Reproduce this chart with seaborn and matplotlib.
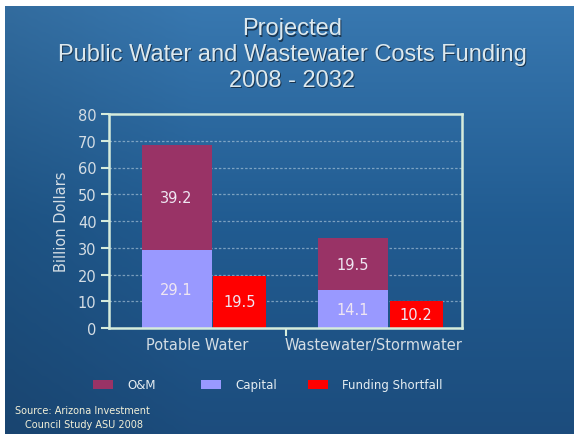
import numpy as np
import matplotlib
matplotlib.use("Agg")
import matplotlib.pyplot as plt
import seaborn as sns
from matplotlib.patches import Patch

categories = ["Potable Water", "Wastewater/Stormwater"]
capital = [29.1, 14.1]
om = [39.2, 19.5]
shortfall = [19.5, 10.2]
series_names = ["O&M", "Capital", "Funding Shortfall"]
yticks = [0, 10, 20, 30, 40, 50, 60, 70, 80]

sns.set_theme(style="white")
plt.rcParams['font.family'] = ['DejaVu Sans']

C_OM = "#993366"
C_CAP = "#9999FF"
C_SF = "#FF0000"
FRAME = "#d6ecdc"
TXT = "#d4dde4"

fig = plt.figure(figsize=(5.74, 4.35), dpi=100)
fig.patch.set_facecolor("white")

# background gradient
bg = fig.add_axes([5/574, 0, 1 - 5/574, 1 - 7/435])
bg.set_axis_off()
h = 200
grad = np.linspace(0, 1, h)[:, None]
top = np.array([0.22, 0.47, 0.69])
mid = np.array([0.13, 0.36, 0.57])
bot = np.array([0.11, 0.30, 0.49])
cols = np.where(grad[..., None] < 0.5,
                top + (mid - top) * (grad[..., None] / 0.5),
                mid + (bot - mid) * ((grad[..., None] - 0.5) / 0.5))
cols = np.repeat(cols, 50, axis=1)
xs = np.linspace(0, 1, 50)[None, :, None]
cols = cols * (0.9 + 0.1 * np.clip(xs * 3, 0, 1))
bg.imshow(cols, aspect="auto", extent=[0, 1, 0, 1], origin="upper")
bg.set_xlim(0, 1); bg.set_ylim(0, 1)

ax = fig.add_axes([109/574, 1 - 329/435, (462 - 109)/574, (329 - 115)/435])
ax.set_facecolor("none")
ax.set_xlim(0, 2)
ax.set_ylim(0, 80)

centers = np.arange(len(categories)) + 0.5
sw, rw = 0.397, 0.30
soff, roff = -0.3155, 0.091

for y in yticks[1:-1]:
    ax.axhline(y, color="#b8cfe0", lw=0.9, ls=(0, (2, 1.5)), alpha=0.6, zorder=0)

ax.bar(centers + soff, capital, width=sw, align="edge", color=C_CAP, zorder=2, linewidth=0)
ax.bar(centers + soff, om, bottom=capital, width=sw, align="edge", color=C_OM, zorder=2, linewidth=0)
ax.bar(centers + roff, shortfall, width=rw, align="edge", color=C_SF, zorder=2, linewidth=0)

lab_kw = dict(ha="center", va="center", color="#efe6f2", fontsize=10.5, zorder=3)
for c, cp, o, s in zip(centers, capital, om, shortfall):
    ax.text(c + soff + sw/2, cp/2, f"{cp}", **lab_kw)
    ax.text(c + soff + sw/2, cp + o/2, f"{o}", **lab_kw)
    ax.text(c + roff + rw/2, s/2, f"{s}", **lab_kw)

for sp in ax.spines.values():
    sp.set_visible(True)
    sp.set_color(FRAME)
    sp.set_linewidth(1.8)

ax.set_yticks(yticks)
ax.set_yticklabels([str(v) for v in yticks], color=TXT, fontsize=10.5)
ax.set_xticks([1.0])
ax.set_xticklabels([""])
ax.tick_params(axis="y", left=True, length=6, width=1.5, color=FRAME, pad=3)
ax.tick_params(axis="x", bottom=True, length=6, width=1.5, color=FRAME)
for c, name in zip(centers, categories):
    ax.text(c, -3.2, name, ha="center", va="top", color=TXT, fontsize=10.5)
ax.set_ylabel("Billion Dollars", color=TXT, fontsize=10.5, labelpad=6)
ax.grid(False)

title = "Projected\nPublic Water and Wastewater Costs Funding\n2008 - 2032"
for dx, dy, col in [(1.3, -1.3, "#1a3550"), (0, 0, "#dde9ee")]:
    fig.text(292/574 + dx/574, 1 - 55/435 + dy/435, title, ha="center", va="center",
             fontsize=17, color=col, family="Liberation Sans", linespacing=1.22)

colors = [C_OM, C_CAP, C_SF]
leg_x = [93, 201, 308]
for name, col, lx in zip(series_names, colors, leg_x):
    lg = fig.legend([Patch(facecolor=col, edgecolor="none")], [name], loc="center left",
                    bbox_to_anchor=(lx/574, 1 - 386/435), frameon=False, fontsize=8.5,
                    handlelength=1.7, handleheight=0.8, handletextpad=1.2,
                    borderpad=0, borderaxespad=0, labelcolor="#e6eef2")

fig.text(15/574, 1 - 411/435, "Source: Arizona Investment", fontsize=7, color="#f2f0d8", ha="left", va="center")
fig.text(25/574, 1 - 425/435, "Council Study ASU 2008", fontsize=7, color="#f2f0d8", ha="left", va="center")

fig.savefig("out.png", dpi=100)
